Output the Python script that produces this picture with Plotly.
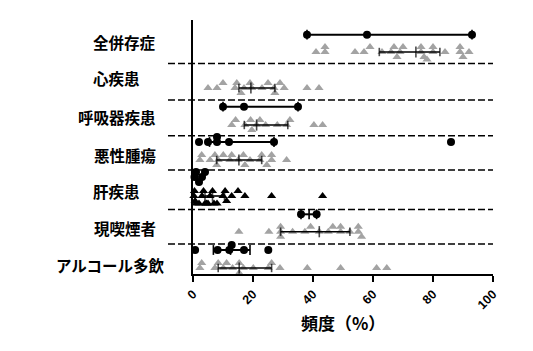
import plotly.graph_objects as go

# ---------------- data ----------------
categories = ["全併存症", "心疾患", "呼吸器疾患", "悪性腫瘍", "肝疾患", "現喫煙者", "アルコール多飲"]

tri_all = [41, 44, 44, 54, 57, 59, 63, 66, 67, 68, 69, 70, 76, 76, 77, 78, 80, 80, 84, 89, 89, 90, 92]
tri_heart = [5, 8, 10, 14, 14.6, 16, 17, 19, 19.6, 23, 25, 27, 27.3, 29, 30.4, 38, 42]
tri_resp = [12.9, 14.2, 17.3, 19.2, 19.6, 21.2, 22.3, 24.2, 28.1, 31.2, 32.3, 40.3, 43.2]
tri_malig = [2.3, 2.9, 5.7, 7.3, 7.9, 8.4, 10.1, 12.3, 12.9, 15.1, 16.8, 17.3, 19, 22.3, 22.9, 24.6, 26.2, 26.2, 31.2]
tri_liver = [0.3, 0.5, 0.7, 1, 2, 3, 3.5, 4, 4.5, 5, 5.7, 6.5, 7, 8, 10, 10.7, 11.2, 12.9, 15, 17.3, 26.2, 43.2]
tri_smoke = [15.3, 25.3, 29.2, 29.2, 29.2, 33.2, 37.3, 39.2, 42.1, 45.1, 46.6, 49.2, 49.2, 52.3, 55.1, 55.1, 56.2]
tri_alcohol = [2.3, 2.9, 7.3, 8.4, 10.1, 11.2, 13.2, 15.4, 15.4, 16.8, 20.1, 25.1, 26.2, 29, 38.1, 49.2, 61.2, 64.6]
tri_values = [tri_all, tri_heart, tri_resp, tri_malig, tri_liver, tri_smoke, tri_alcohol]
tri_q1 = [62.1, 15.3, 17.1, 7.9, 4.0, 29.2, 8.4]
tri_med = [74.3, 19.3, 21.2, 15.3, 6.5, 42.1, 15.4]
tri_q3 = [82.3, 27.3, 31.6, 22.9, 10.5, 52.3, 26.2]

dot_all = [38, 58, 93]
dot_heart = []
dot_resp = [10, 17, 35]
dot_malig = [2, 5, 8, 8, 12, 27, 86]
dot_liver = [0.5, 1, 2, 3, 4]
dot_smoke = [36, 41.2]
dot_alcohol = [0.7, 8.2, 12.1, 12.9, 17, 25.1]
dot_values = [dot_all, dot_heart, dot_resp, dot_malig, dot_liver, dot_smoke, dot_alcohol]
dot_lo = [38, None, 10, 5.5, None, 36, 6.8]
dot_med = [None, None, None, None, None, 38.7, 12.5]
dot_hi = [93, None, 35, 27, None, 41.2, 19]

x_ticks = [0, 20, 40, 60, 80, 100]
x_title = "頻度（%）"

# ---------------- layout positions (pixel-like y scale) ----------------
dot_row_y = [34.7, None, 106.7, 142, 177, 214.3, 250]
tri_row_y = [52, 88, 125, 160, 196, 231.7, 268]
label_y = [42, 78, 117, 155, 191, 228, 265]
label_right_px = [158, 142, 158, 158, 142, 158, 167]
sep_y = [63.5, 100, 135.7, 170, 209.5, 244]

GRAY = "#a3a3a3"
PX_PER_UNIT = 3.0  # 300 px for 0..100


def swarm(vals, dx=7.0, dy=4.5, levels=(0, -5, 5, -2.5, 2.5, -7.5, 7.5)):
    placed = []
    offs = [0.0] * len(vals)
    order = sorted(range(len(vals)), key=lambda i: vals[i])
    for i in order:
        x = vals[i] * PX_PER_UNIT
        chosen = levels[-1]
        for lv in levels:
            if all(abs(x - px) >= dx or abs(lv - py) >= dy for px, py in placed):
                chosen = lv
                break
        placed.append((x, chosen))
        offs[i] = chosen
    return offs


fig = go.Figure()

for k, cat in enumerate(categories):
    vals = tri_values[k]
    if vals:
        offs = swarm(vals)
        col = "black" if cat == "肝疾患" else GRAY
        fig.add_trace(go.Scatter(
            x=vals, y=[tri_row_y[k] + o for o in offs], mode="markers",
            marker=dict(symbol="triangle-up", size=8, color=col, line=dict(width=0)),
            cliponaxis=False, showlegend=False, hoverinfo="x"))
    yb = tri_row_y[k]
    fig.add_trace(go.Scatter(
        x=[tri_q1[k], tri_q3[k]], y=[yb, yb], mode="lines",
        line=dict(color="black", width=1.6), showlegend=False, hoverinfo="skip"))
    fig.add_trace(go.Scatter(
        x=[tri_q1[k], tri_med[k], tri_q3[k]], y=[yb, yb, yb], mode="markers",
        marker=dict(symbol="line-ns", size=[6, 8, 6], color="black",
                    line=dict(width=1.6, color="black")),
        showlegend=False, hoverinfo="skip"))

for k, cat in enumerate(categories):
    vals = dot_values[k]
    if not vals:
        continue
    yb = dot_row_y[k]
    if dot_lo[k] is not None:
        fig.add_trace(go.Scatter(
            x=[dot_lo[k], dot_hi[k]], y=[yb, yb], mode="lines",
            line=dict(color="black", width=2), showlegend=False, hoverinfo="skip"))
        caps = [dot_lo[k], dot_hi[k]] + ([dot_med[k]] if dot_med[k] is not None else [])
        fig.add_trace(go.Scatter(
            x=caps, y=[yb] * len(caps), mode="markers",
            marker=dict(symbol="line-ns", size=7, color="black", line=dict(width=1.6, color="black")),
            showlegend=False, hoverinfo="skip"))
    offs = swarm(vals)
    fig.add_trace(go.Scatter(
        x=vals, y=[yb + o for o in offs], mode="markers",
        marker=dict(symbol="circle", size=8, color="black", line=dict(width=0)),
        cliponaxis=False, showlegend=False, hoverinfo="x"))

shapes = []
for y in sep_y:
    shapes.append(dict(type="line", xref="paper", yref="y", x0=(168 - 193) / 300, x1=1.0,
                       y0=y, y1=y, line=dict(color="black", width=1.6, dash="7px,3px")))

annotations = []
for k, cat in enumerate(categories):
    annotations.append(dict(text=cat, xref="paper", yref="y", x=(label_right_px[k] - 193) / 300,
                            y=label_y[k], xanchor="right", yanchor="middle", showarrow=False,
                            font=dict(family="Noto Sans CJK JP", size=15.5, color="black", weight="bold")))
annotations.append(dict(text=x_title, xref="paper", yref="paper", x=0.5, y=(274 - 322) / 254,
                        xanchor="center", yanchor="middle", showarrow=False,
                        font=dict(family="Noto Sans CJK JP", size=17, color="black", weight="bold")))

fig.update_layout(
    width=533, height=351,
    margin=dict(l=193, r=40, t=20, b=77),
    plot_bgcolor="white", paper_bgcolor="white",
    xaxis=dict(range=[0, 100], tickvals=x_ticks, ticktext=[str(t) for t in x_ticks],
               tickangle=-45, showgrid=False, zeroline=False, showline=True,
               linecolor="black", linewidth=2, ticks="outside", ticklen=6, tickwidth=2,
               tickcolor="black",
               tickfont=dict(family="Liberation Sans", size=12.5, color="black", weight="bold")),
    yaxis=dict(range=[274, 20], showgrid=False, zeroline=False, showline=True,
               linecolor="black", linewidth=2, showticklabels=False, ticks=""),
    shapes=shapes, annotations=annotations,
)

fig.write_html("out.html")
